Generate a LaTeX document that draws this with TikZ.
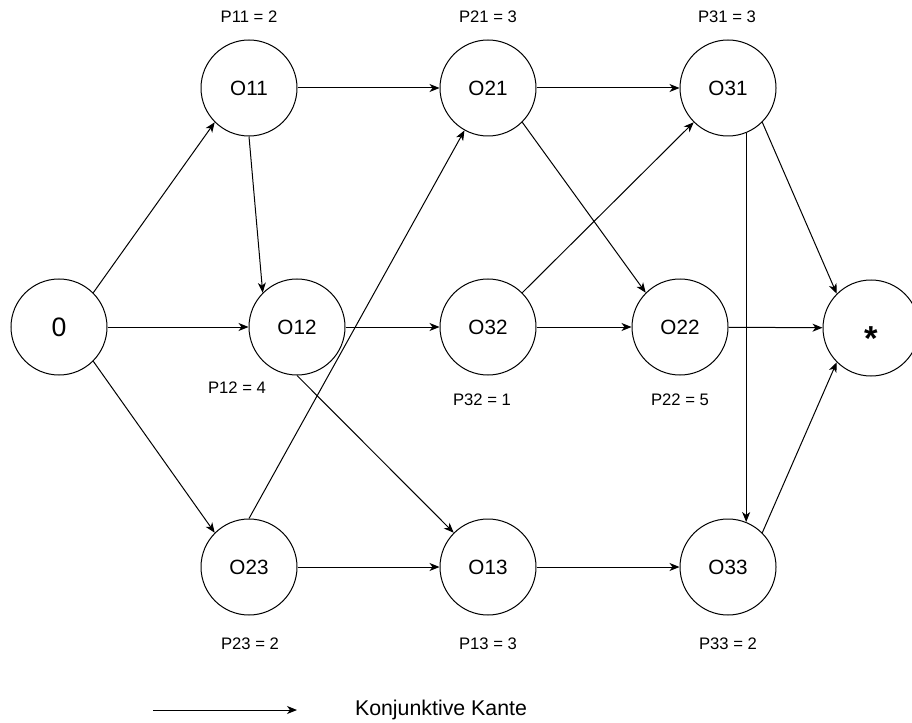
\documentclass[tikz,border=0pt]{standalone}
\usepackage{fontspec}
\setmainfont{Liberation Sans}
\usetikzlibrary{arrows.meta, positioning}

\begin{document}
\begin{tikzpicture}[
    x=0.75pt, y=-0.75pt,
    every node/.style={font=\fontsize{15.5}{18}\selectfont},
    op/.style={draw, circle, line width=0.75pt, minimum size=72pt, inner sep=0pt},
    lab/.style={font=\fontsize{12.5}{15}\selectfont},
    arr/.style={-{Stealth[length=7.5pt, width=6pt, inset=2.2pt]}, line width=0.75pt},
]

\useasboundingbox (0,0) rectangle (912,723);

% operations
\node[op, font=\fontsize{20}{24}\selectfont] (src) at (59,327) {0};
\node[op] (O11) at (249,88) {O11};
\node[op] (O21) at (488,88) {O21};
\node[op] (O31) at (728,88) {O31};
\node[op] (O12) at (297,327) {O12};
\node[op] (O32) at (488,327) {O32};
\node[op] (O22) at (680,327) {O22};
\node[op, font=\fontsize{26}{30}\selectfont\bfseries] (snk) at (871,328)
    {\smash{\raisebox{-0.65em}{*}}};
\node[op] (O23) at (249,567) {O23};
\node[op] (O13) at (488,567) {O13};
\node[op] (O33) at (728,567) {O33};

% processing times
\node[lab] (p11) at (249,17) {P11 = 2};
\node[lab] (p21) at (488,17) {P21 = 3};
\node[lab] (p31) at (727,17) {P31 = 3};
\node[lab] (p12) at (237,388) {P12 = 4};
\node[lab] (p32) at (482,400) {P32 = 1};
\node[lab] (p22) at (680,400) {P22 = 5};
\node[lab] (p23) at (250,644) {P23 = 2};
\node[lab] (p13) at (488,644) {P13 = 3};
\node[lab] (p33) at (728,644) {P33 = 2};

% edges
\draw[arr] (src.45) -- (O11.-135);
\draw[arr] (src) -- (O12);
\draw[arr] (src.-45) -- (O23.135);
\draw[arr] (O11) -- (O21);
\draw[arr] (O11.south) -- (O12.135);
\draw[arr] (O21) -- (O31);
\draw[arr] (O21.-45) -- (O22.135);
\draw[arr] (O12) -- (O32);
\draw[arr] (O12.south) -- (O13.135);
\draw[arr] (O23.north) -- (O21);
\draw[arr] (O23) -- (O13);
\draw[arr] (O32.45) -- (O31.-135);
\draw[arr] (O32) -- (O22);
\draw[arr] (O22) -- (snk);
\draw[arr] (O31.-45) -- (snk.135);
\draw[arr] (O31.-68) -- (O33.68);
\draw[arr] (O33.45) -- (snk.-135);
\draw[arr] (O13) -- (O33);

% legend
\coordinate (legA) at (153,710);
\coordinate (legB) at (297,710);
\draw[arr] (legA) -- (legB);
\node[font=\fontsize{16}{19}\selectfont] (legtxt) at (441,710) {Konjunktive Kante};

\end{tikzpicture}
\end{document}
